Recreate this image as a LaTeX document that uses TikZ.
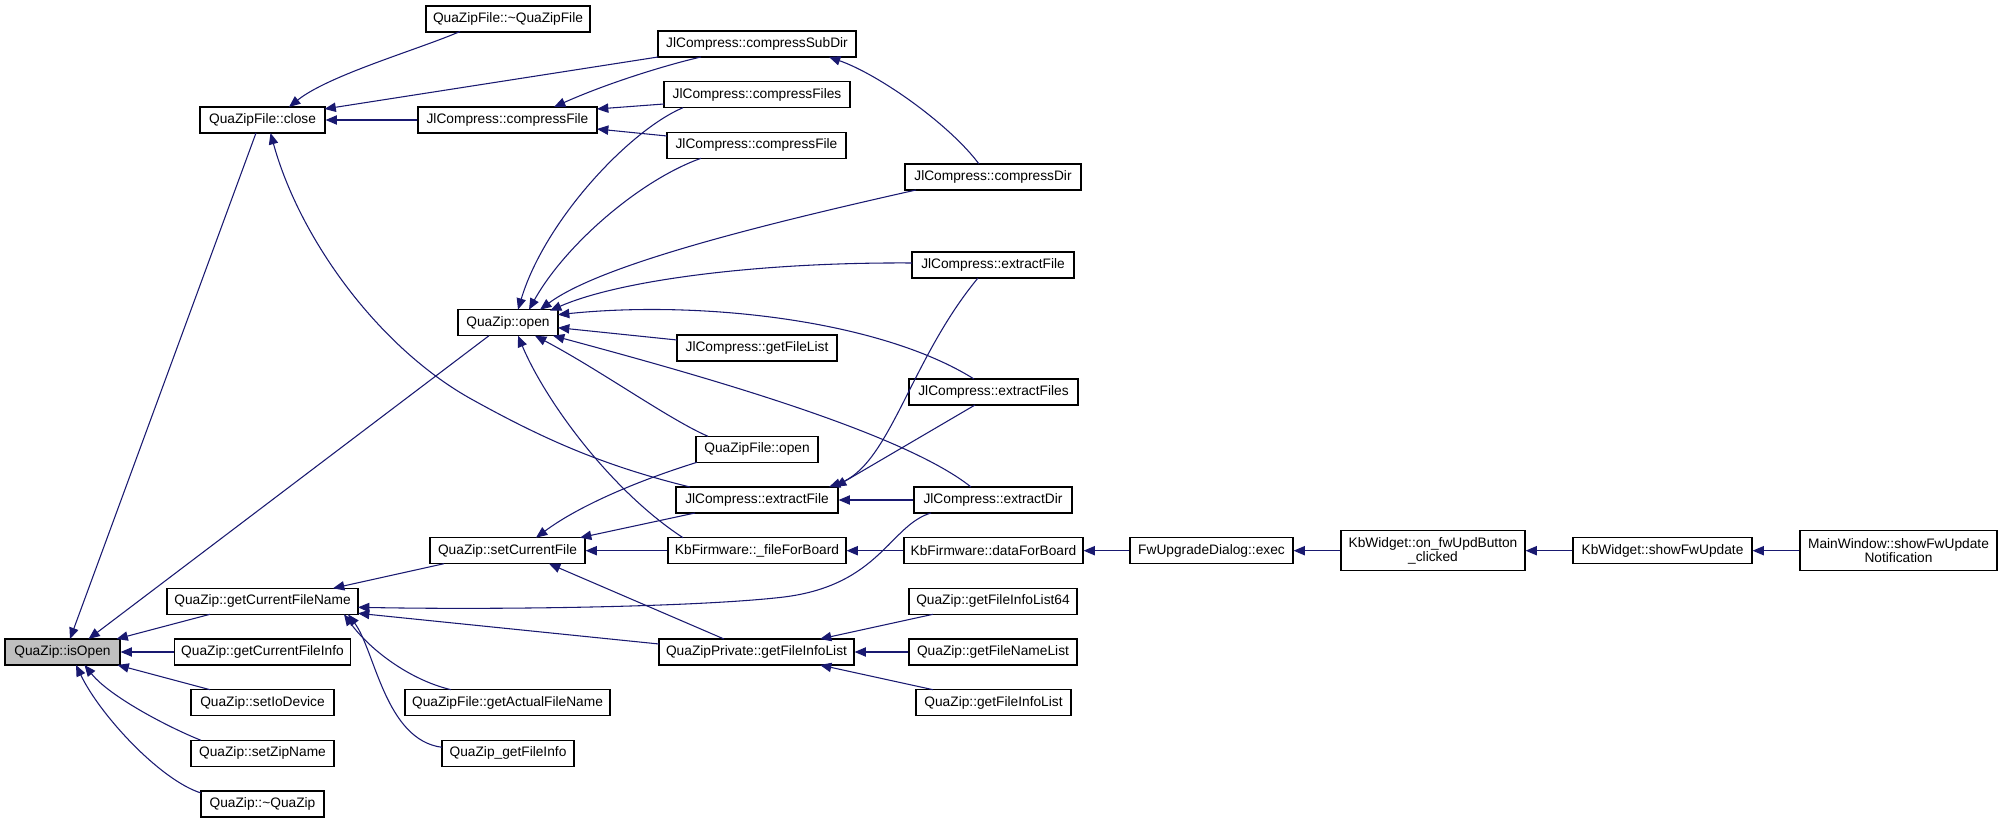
\documentclass[tikz,border=0pt]{standalone}
\usepackage{fontspec}
\setmainfont{Liberation Sans}
\usetikzlibrary{arrows.meta,calc}
\definecolor{edgecol}{RGB}{25,25,112}
\definecolor{nodegray}{RGB}{191,191,191}
\begin{document}
\begin{tikzpicture}[x=0.75pt,y=-0.75pt,
  box/.style={draw=black, line width=0.9pt, fill=white, minimum height=19.5pt, inner sep=0pt,
    font=\fontsize{10.3}{10.6}\selectfont, align=center},
  bw/.style={minimum width=#1*0.75pt},
  tall/.style={minimum height=30pt},
  edge/.style={draw=edgecol, line width=0.8pt, -{Triangle[length=8.5pt,width=7pt]}}]
\useasboundingbox (0,0) rectangle (2003,823);
% column 0
\node[box,bw=115,fill=nodegray] (isopen) at (62.5,652) {QuaZip::isOpen};
% column 1
\node[box,bw=125] (close) at (262.5,120) {QuaZipFile::close};
\node[box,bw=191] (gcfn) at (262.5,601.3) {QuaZip::getCurrentFileName};
\node[box,bw=176] (gcfi) at (262.5,652) {QuaZip::getCurrentFileInfo};
\node[box,bw=143] (setio) at (262.5,702.7) {QuaZip::setIoDevice};
\node[box,bw=143] (setzip) at (262.5,753.3) {QuaZip::setZipName};
\node[box,bw=123] (qzdtor) at (262.5,804) {QuaZip::\textasciitilde QuaZip};
% column 2
\node[box,bw=164] (qzfdtor) at (508,19) {QuaZipFile::\textasciitilde QuaZipFile};
\node[box,bw=179] (cfile3) at (507.5,120) {JlCompress::compressFile};
\node[box,bw=100] (qzopen) at (508,322.7) {QuaZip::open};
\node[box,bw=155] (setcf) at (507.5,550.7) {QuaZip::setCurrentFile};
\node[box,bw=205] (gafn) at (507.5,702.7) {QuaZipFile::getActualFileName};
\node[box,bw=132] (qzgfi) at (508,753.3) {QuaZip\_getFileInfo};
% column 3
\node[box,bw=198] (csubdir) at (757,44) {JlCompress::compressSubDir};
\node[box,bw=186] (cfiles) at (757,94.7) {JlCompress::compressFiles};
\node[box,bw=179] (cfile4) at (756.5,145.3) {JlCompress::compressFile};
\node[box,bw=160] (getfl) at (757,348) {JlCompress::getFileList};
\node[box,bw=122] (qzfopen) at (757,449.3) {QuaZipFile::open};
\node[box,bw=162] (xfile4) at (757,500) {JlCompress::extractFile};
\node[box,bw=178] (ffb) at (757,550.7) {KbFirmware::\_fileForBoard};
\node[box,bw=195] (pgfil) at (756.5,652) {QuaZipPrivate::getFileInfoList};
% column 4
\node[box,bw=176] (cdir) at (993,177) {JlCompress::compressDir};
\node[box,bw=162] (xfile5) at (993,265) {JlCompress::extractFile};
\node[box,bw=169] (xfiles) at (993.5,392) {JlCompress::extractFiles};
\node[box,bw=158] (xdir) at (993,500) {JlCompress::extractDir};
\node[box,bw=179] (dfb) at (993.5,550.7) {KbFirmware::dataForBoard};
\node[box,bw=168] (gfil64) at (993,601.3) {QuaZip::getFileInfoList64};
\node[box,bw=168] (gfnl) at (993,652) {QuaZip::getFileNameList};
\node[box,bw=155] (gfil) at (993.5,702.7) {QuaZip::getFileInfoList};
% right chain
\node[box,bw=163] (fwexec) at (1211.5,550.7) {FwUpgradeDialog::exec};
\node[box,bw=184,tall] (onfw) at (1433,550.7) {KbWidget::on\_fwUpdButton\\\_clicked};
\node[box,bw=179] (showfw) at (1662.5,550.7) {KbWidget::showFwUpdate};
\node[box,bw=197,tall] (mainwin) at (1898.5,550.7) {MainWindow::showFwUpdate\\Notification};

% edges into QuaZipFile::close
\draw[edge] ($(qzfdtor)+(-48,12.5)$) .. controls (420,49) and (329,75) .. ($(close)+(26.5,-13)$);
\draw[edge] ($(csubdir)+(-99,13)$) -- ($(close)+(62,-11)$);
\draw[edge] (cfile3) -- (close);
\draw[edge] ($(xfile4)+(-67,-13)$) .. controls (600,465) and (540,437) .. (473,400) .. controls (380,349) and (300,240) .. ($(close)+(8,13)$);
% edges into QuaZip::isOpen
\draw[edge] ($(close)+(-6.5,13)$) -- ($(isopen)+(7.5,-13)$);
\draw[edge] ($(qzopen)+(-19,13)$) -- ($(isopen)+(26,-13)$);
\draw[edge] ($(gcfn)+(-52.5,13)$) -- ($(isopen)+(54,-13)$);
\draw[edge] (gcfi) -- (isopen);
\draw[edge] ($(setio)+(-52.5,-13)$) -- ($(isopen)+(55,13)$);
\draw[edge] ($(setzip)+(-61.5,-13)$) .. controls (170,728) and (110,697) .. ($(isopen)+(22,13)$);
\draw[edge] ($(qzdtor)+(-61.5,-11)$) .. controls (160,780) and (100,715) .. ($(isopen)+(13.5,13)$);
% edges into JlCompress::compressFile (col 2)
\draw[edge] ($(csubdir)+(-56,13)$) .. controls (670,64) and (610,82) .. ($(cfile3)+(46.5,-13)$);
\draw[edge] ($(cfiles)+(-93,9.3)$) -- ($(cfile3)+(89.5,-11)$);
\draw[edge] ($(cfile4)+(-89.5,-9.3)$) -- ($(cfile3)+(89.5,9)$);
% compressSubDir
\draw[edge] ($(cdir)+(-14,-13)$) .. controls (950,125) and (880,75) .. ($(csubdir)+(72,13)$);
% edges into QuaZip::open
\draw[edge] ($(cfiles)+(-74,13)$) .. controls (630,130) and (545,220) .. ($(qzopen)+(10,-13)$);
\draw[edge] ($(cfile4)+(-55.5,13)$) .. controls (640,180) and (565,245) .. ($(qzopen)+(21,-13)$);
\draw[edge] ($(cdir)+(-77,13)$) .. controls (760,225) and (600,265) .. ($(qzopen)+(32,-13)$);
\draw[edge] ($(xfile5)+(-81,-2)$) .. controls (760,262) and (620,280) .. ($(qzopen)+(42,-12)$);
\draw[edge] ($(xfiles)+(-19.5,-13)$) .. controls (880,320) and (700,300) .. ($(qzopen)+(50,-8)$);
\draw[edge] ($(getfl)+(-80,-8)$) -- ($(qzopen)+(50,5)$);
\draw[edge] ($(qzfopen)+(-49,-13)$) .. controls (670,420) and (600,370) .. ($(qzopen)+(27,13)$);
\draw[edge] ($(xdir)+(-22,-13)$) .. controls (900,430) and (680,370) .. ($(qzopen)+(45,13)$);
\draw[edge] ($(ffb)+(-74,-13)$) .. controls (610,490) and (545,400) .. ($(qzopen)+(10,13)$);
% edges into QuaZip::getCurrentFileName
\draw[edge] ($(setcf)+(-63.5,13)$) -- ($(gcfn)+(70.5,-13)$);
\draw[edge] ($(xdir)+(-62,13)$) .. controls (890,525) and (880,585) .. (784,597) .. controls (700,607) and (500,610) .. ($(gcfn)+(95.5,6)$);
\draw[edge] ($(pgfil)+(-97.5,-8)$) -- ($(gcfn)+(95.5,12)$);
\draw[edge] ($(gafn)+(-56.5,-13)$) .. controls (410,680) and (370,650) .. ($(gcfn)+(81.5,13)$);
\draw[edge] ($(qzgfi)+(-66,-6)$) .. controls (385,740) and (375,650) .. ($(gcfn)+(85.5,13)$);
% edges into QuaZip::setCurrentFile
\draw[edge] ($(qzfopen)+(-60,13)$) .. controls (640,480) and (580,505) .. ($(setcf)+(28.5,-13)$);
\draw[edge] ($(xfile4)+(-62,13)$) -- ($(setcf)+(72.5,-13)$);
\draw[edge] (ffb) -- (setcf);
\draw[edge] ($(pgfil)+(-32.5,-13)$) -- ($(setcf)+(41.5,13)$);
% edges into JlCompress::extractFile (col 3)
\draw[edge] ($(xfile5)+(-15,13)$) .. controls (910,360) and (890,465) .. ($(xfile4)+(72,-13)$);
\draw[edge] ($(xfiles)+(-18.5,13)$) -- ($(xfile4)+(78,-13)$);
\draw[edge] (xdir) -- (xfile4);
% right chain
\draw[edge] (dfb) -- (ffb);
\draw[edge] (fwexec) -- (dfb);
\draw[edge] (onfw) -- (fwexec);
\draw[edge] (showfw) -- (onfw);
\draw[edge] (mainwin) -- (showfw);
% edges into QuaZipPrivate::getFileInfoList
\draw[edge] ($(gfil64)+(-60,13)$) -- ($(pgfil)+(63.5,-13)$);
\draw[edge] (gfnl) -- (pgfil);
\draw[edge] ($(gfil)+(-60.5,-13)$) -- ($(pgfil)+(63.5,13)$);
\end{tikzpicture}
\end{document}
